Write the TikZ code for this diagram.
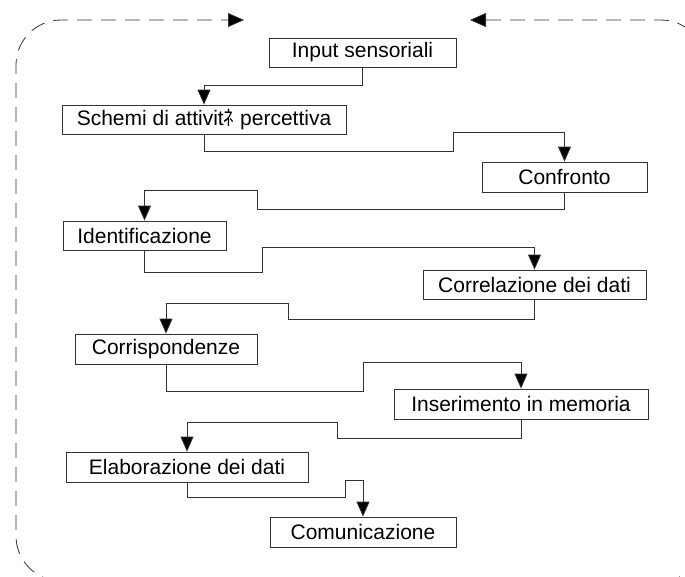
\documentclass[tikz,border=0pt]{standalone}
\usepackage{fontspec}
\setmainfont{Liberation Sans}
\newfontfamily\cjk{Noto Sans CJK JP}
\usetikzlibrary{arrows.meta}
\definecolor{linecol}{gray}{0.2}
\tikzset{
  box/.style={draw=linecol, line width=0.8pt, inner sep=0pt, fill=white,
    font=\fontsize{21}{24}\selectfont},
  conn/.style={draw=linecol, line width=0.8pt, -{Triangle[length=15pt,width=13pt,fill=black]}},
  fback/.style={draw=linecol, line width=0.8pt, dash pattern=on 15pt off 9pt,
    rounded corners=45pt, {Triangle[length=16pt,width=14pt,fill=black]}-{Triangle[length=16pt,width=14pt,fill=black]}}
}
\begin{document}
\begin{tikzpicture}[x=1pt,y=-1pt]
\useasboundingbox (0,0) rectangle (685,576);
\clip (0,0) rectangle (685,576);
\fill[white] (0,0) rectangle (685,576);
% feedback loop
\draw[fback] (470,20) -- (706,20) -- (706,581) -- (16,581) -- (16,20) -- (244,20);
% boxes
\node[box, minimum width=187pt, minimum height=29pt] (n1) at (362.5,52.5) {Input sensoriali};
\node[box, minimum width=284pt, minimum height=29pt] (n2) at (204,119.5) {Schemi di attivit{\cjk ﾈ} percettiva};
\node[box, minimum width=165pt, minimum height=30pt] (n3) at (564.5,177) {Confronto};
\node[box, minimum width=163pt, minimum height=29pt] (n4) at (144.5,235.5) {Identificazione};
\node[box, minimum width=223pt, minimum height=29pt] (n5) at (534.5,284.5) {Correlazione dei dati};
\node[box, minimum width=182pt, minimum height=30pt] (n6) at (166,349) {Corrispondenze};
\node[box, minimum width=254pt, minimum height=30pt] (n7) at (521,404) {Inserimento in memoria};
\node[box, minimum width=242pt, minimum height=30pt] (n8) at (187,467) {Elaborazione dei dati};
\node[box, minimum width=186pt, minimum height=30pt] (n9) at (363,532) {Comunicazione};
% connectors
\draw[conn] (n1.south) -- ++(0,18) -| (n2.north);
\draw[conn] (n2.south) |- (453,151) -- (453,132) -| (n3.north);
\draw[conn] (n3.south) |- (257,209) -- (257,190) -| (n4.north);
\draw[conn] (n4.south) |- (262,272) -- (262,247) -| (n5.north);
\draw[conn] (n5.south) |- (288,319) -- (288,303) -| (n6.north);
\draw[conn] (n6.south) |- (363,391) -- (363,362) -| (n7.north);
\draw[conn] (n7.south) |- (337,438) -- (337,422) -| (n8.north);
\draw[conn] (n8.south) |- (345,497) -- (345,480) -| (n9.north);
\end{tikzpicture}
\end{document}
